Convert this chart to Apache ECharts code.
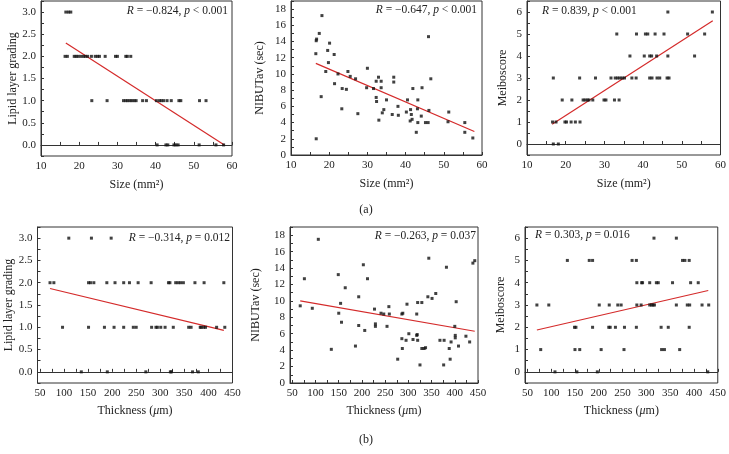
<!DOCTYPE html>
<html><head><meta charset="utf-8">
<script src="https://cdn.jsdelivr.net/npm/echarts@6/dist/echarts.min.js"></script>
<style>html,body{margin:0;padding:0;background:#fff}#c{width:729px;height:454px}</style>
</head><body><div id="c"></div>
<script>
// ---------- (a) Size vs Lipid layer grading ----------
const a1Size  = [16.5,17.2,17.8, 16.3,16.9,18.7,19.2,19.7,20.4,21.1,21.6,22.2,23.2,24.2,24.8,25.3,26.8,29.5,30.0,32.2,32.6,33.5, 23.3,27.3,31.6,32.2,32.7,33.3,33.8,34.4,34.9,36.6,37.6,40.2,41.0,41.5,42.1,43.0,44.1,46.1,46.6,51.5,53.2, 40.4,42.7,43.2,44.8,45.3,45.9,51.4,55.8,57.8];
const a1Lipid = [3,3,3, 2,2,2,2,2,2,2,2,2,2,2,2,2,2,2,2,2,2,2, 1,1,1,1,1,1,1,1,1,1,1,1,1,1,1,1,1,1,1,1,1, 0,0,0,0,0,0,0,0,0];
const a1FitX = [16.5, 58]; const a1FitY = [2.3, 0.0];

// ---------- (a) Size vs NIBUTav ----------
const a2Size  = [16.6,16.5,16.6,16.7,17.4,18.1,17.9,19.1,19.6,19.8,20.1,21.3,21.4,22.3,23.4,23.3,24.5,24.9,25.5,26.9,27.5,30.0,29.8,31.6,32.3,32.3,32.4,32.9,33.0,33.6,33.6,33.9,34.3,35.0,36.5,36.9,36.9,38.0,38.1,40.2,40.5,41.2,41.3,41.5,41.7,41.9,42.8,43.1,43.2,43.2,44.1,44.3,45.2,45.9,46.0,46.1,46.6,51.1,51.3,55.5,55.5,57.6];
const a2Nibut = [2.0,12.5,14.1,14.3,15.0,17.2,7.2,10.3,12.9,11.4,13.8,12.4,8.8,10.0,8.2,5.7,8.1,10.3,9.7,9.4,5.1,10.7,8.3,8.2,9.1,7.1,6.6,9.6,4.3,9.1,8.3,5.2,5.6,6.8,5.0,9.6,9.0,6.0,4.9,5.3,6.8,4.2,5.6,5.0,4.4,8.2,2.8,5.7,6.8,4.0,4.8,8.3,4.0,4.0,14.6,5.5,9.4,4.1,5.3,4.0,2.8,2.1];
const a2FitX = [16.5, 58]; const a2FitY = [11.3, 2.9];

// ---------- (a) Size vs Meiboscore ----------
const a3Size  = [46.4,57.9, 33.2,38.3,40.6,41.2,43.1,45.4,51.5,55.9, 36.6,40.3,41.7,42.2,43.5,46.4,53.3, 16.8,23.6,27.7,31.7,32.8,33.4,34.0,34.6,35.2,37.1,38.2,41.7,42.3,43.6,44.3,46.2,46.7, 19.1,21.6,24.5,25.0,25.6,26.0,27.0,29.9,30.4,32.6,33.8, 16.6,17.5,19.8,20.2,21.4,22.5,23.7, 16.8,18.1];
const a3Meibo = [6,6, 5,5,5,5,5,5,5,5, 4,4,4,4,4,4,4, 3,3,3,3,3,3,3,3,3,3,3,3,3,3,3,3,3, 2,2,2,2,2,2,2,2,2,2,2, 1,1,1,1,1,1,1, 0,0];
const a3FitX = [16.5, 58]; const a3FitY = [0.9, 5.6];

// ---------- (b) Thickness vs Lipid layer grading ----------
const b1Thick = [110,157,198, 71,79,151,155,162,189,206,224,236,254,281,317,320,332,337,342,348,372,391,432, 97,151,184,204,224,244,250,282,291,294,301,310,327,359,364,383,385,390,394,417,434, 136,190,270,321,323,367,379];
const b1Lipid = [3,3,3, 2,2,2,2,2,2,2,2,2,2,2,2,2,2,2,2,2,2,2,2, 1,1,1,1,1,1,1,1,1,1,1,1,1,1,1,1,1,1,1,1,1, 0,0,0,0,0,0,0];
const b1FitX = [71, 432]; const b1FitY = [1.87, 0.93];

// ---------- (b) Thickness vs NIBUTav ----------
const b2Thick = [67,76,93,106,134,149,150,154,156,164,186,193,193,203,206,212,227,229,229,241,247,254,258,259,277,286,286,287,288,295,297,301,310,318,318,319,320,320,325,329,329,334,337,342,344,351,359,368,376,377,382,388,390,392,400,401,401,403,408,424,432,439,443];
const b2Nibut = [9.4,12.7,9.1,17.5,4.1,13.2,8.5,9.7,7.4,11.6,4.5,10.5,7.0,14.4,6.4,12.7,9.0,6.9,7.2,8.5,8.4,6.9,9.3,8.4,2.9,5.4,8.4,4.2,8.5,5.2,9.6,6.0,5.3,8.4,5.8,5.9,5.2,9.8,2.2,4.2,9.8,4.2,4.3,10.5,15.2,10.3,10.9,5.2,2.2,5.2,14.1,4.2,2.9,5.0,6.9,5.8,5.5,9.9,4.5,5.7,5.0,14.6,14.9];
const b2FitX = [67, 443]; const b2FitY = [10.0, 6.3];

// ---------- (b) Thickness vs Meiboscore ----------
const b3Thick = [316,363, 134,180,187,270,279,376,381,390, 280,290,292,307,321,325,355,393,409, 70,95,201,222,240,247,280,289,307,311,314,317,363,386,391,417,431, 149,152,187,221,224,235,254,279,331,346,390, 78,150,160,205,253,332,338,370, 108,154,197,429];
const b3Meibo = [6,6, 5,5,5,5,5,5,5,5, 4,4,4,4,4,4,4,4,4, 3,3,3,3,3,3,3,3,3,3,3,3,3,3,3,3,3, 2,2,2,2,2,2,2,2,2,2,2, 1,1,1,1,1,1,1,1, 0,0,0,0];
const b3FitX = [70, 430]; const b3FitY = [1.88, 3.65];

// ---------- labels ----------
const thickTicks = [50,100,150,200,250,300,350,400,450];
const thickMinor = [50,75,100,125,150,175,200,225,250,275,300,325,350,375,400,425,450];
const yTitles = ['Lipid layer grading','NIBUTav (sec)','Meiboscore','Lipid layer grading','NIBUTav (sec)','Meiboscore'];
const statTexts = ['{i|R} = \u22120.824, {i|p} < 0.001','{i|R} = \u22120.647, {i|p} < 0.001','{i|R} = 0.839, {i|p} < 0.001',
                   '{i|R} = \u22120.314, {i|p} = 0.012','{i|R} = \u22120.263, {i|p} = 0.037','{i|R} = 0.303, {i|p} = 0.016'];
const captions = ['(a)','(b)'];

const FONT = '"Liberation Serif","DejaVu Serif",serif';
const TXT = '#222';
const AX = '#333';

const grids = [
  {left:41, top:1, width:191, height:155},
  {left:291, top:1, width:191, height:154},
  {left:527, top:1, width:195, height:154},
  {left:37.5, top:227, width:195, height:156},
  {left:290, top:227, width:188, height:156},
  {left:525, top:227, width:197, height:156}
].map(g => Object.assign({show:true, borderColor:AX, borderWidth:1, backgroundColor:'transparent'}, g));

const common = {
  axisLine:{show:true, lineStyle:{color:AX, width:1}},
  axisTick:{show:true, inside:true, length:3, lineStyle:{color:AX}},
  splitLine:{show:false},
  nameLocation:'middle',
  nameTextStyle:{fontFamily:FONT, fontSize:12, color:TXT}
};
function lbl(extra){ return Object.assign({fontFamily:FONT, fontSize:11, color:TXT, margin:5}, extra||{}); }

const xAxes = [], yAxes = [];
const yNameGaps = [17, 25, 18, 14, 28, 18];
for (let i=0;i<6;i++){
  if (i<3){
    xAxes.push(Object.assign({}, common, {gridIndex:i, type:'value', min:10, max:60, interval:5,
      name:'Size (mm\u00B2)', nameGap:23,
      axisLabel:lbl({formatter:v => (v%10===0 ? String(v) : '')})}));
  } else {
    xAxes.push(Object.assign({}, common, {gridIndex:i, type:'value', min:45, max:450,
      name:'{a|Thickness (}{i|\u03BC}{a|m)}', nameGap:22,
      nameTextStyle:{fontFamily:FONT, fontSize:12, color:TXT, rich:{a:{fontFamily:FONT,fontSize:12,color:TXT}, i:{fontFamily:FONT,fontSize:12,color:TXT,fontStyle:'italic'}}},
      axisTick:{show:true, inside:true, length:3, lineStyle:{color:AX}, customValues:thickMinor},
      axisLabel:lbl({customValues:thickTicks})}));
  }
  const kind = i%3;
  let y;
  if (kind===0){
    y = {min:-0.25, max:3.25, interval:0.25, axisLabel:lbl({formatter:v => (Math.abs(v*2-Math.round(v*2))<1e-6 && v>=0 && v<=3 ? v.toFixed(1) : '')})};
  } else if (kind===1){
    y = {min:0, max:19, interval:1, axisLabel:lbl({formatter:v => (v%2===0 && v<=18 ? String(v) : '')})};
  } else {
    y = {min:-0.5, max:6.5, interval:0.5, axisLabel:lbl({formatter:v => (Number.isInteger(v) && v>=0 && v<=6 ? String(v) : '')})};
  }
  yAxes.push(Object.assign({}, common, {gridIndex:i, type:'value', name:yTitles[i], nameGap:yNameGaps[i]}, y));
}

const sets = [
  [a1Size,a1Lipid,a1FitX,a1FitY],[a2Size,a2Nibut,a2FitX,a2FitY],[a3Size,a3Meibo,a3FitX,a3FitY],
  [b1Thick,b1Lipid,b1FitX,b1FitY],[b2Thick,b2Nibut,b2FitX,b2FitY],[b3Thick,b3Meibo,b3FitX,b3FitY]
];
const series = [];
sets.forEach((s,i) => {
  series.push({type:'line', xAxisIndex:i, yAxisIndex:i, data:s[2].map((x,k)=>[x,s[3][k]]),
    symbol:'none', silent:true, lineStyle:{color:'#d42a2a', width:1.2}, animation:false, z:2});
  series.push({type:'scatter', xAxisIndex:i, yAxisIndex:i, data:s[0].map((x,k)=>[x,s[1][k]]),
    symbol:'rect', symbolSize:3, itemStyle:{color:'#111'}, animation:false, z:3});
});

const rich = {i:{fontFamily:FONT, fontSize:11.5, fontStyle:'italic', fill:TXT}};
const statPos = [
  {x:228, y:11, align:'right'}, {x:477, y:10, align:'right'}, {x:542, y:11, align:'left'},
  {x:230, y:238, align:'right'}, {x:476, y:236, align:'right'}, {x:535, y:235, align:'left'}
];
const graphic = statTexts.map((t,i) => ({type:'text', x:statPos[i].x, y:statPos[i].y, z:10,
  style:{text:t, rich:rich, fontFamily:FONT, fontSize:11.5, fill:TXT, align:statPos[i].align, verticalAlign:'middle'}}));
[[366,210],[366,440]].forEach((p,i) => graphic.push({type:'text', x:p[0], y:p[1], z:10,
  style:{text:captions[i], fontFamily:FONT, fontSize:12, fill:TXT, align:'center', verticalAlign:'middle'}}));

const chart = echarts.init(document.getElementById('c'));
chart.setOption({animation:false, backgroundColor:'#fff', grid:grids, xAxis:xAxes, yAxis:yAxes, series:series, graphic:graphic});
</script></body></html>
